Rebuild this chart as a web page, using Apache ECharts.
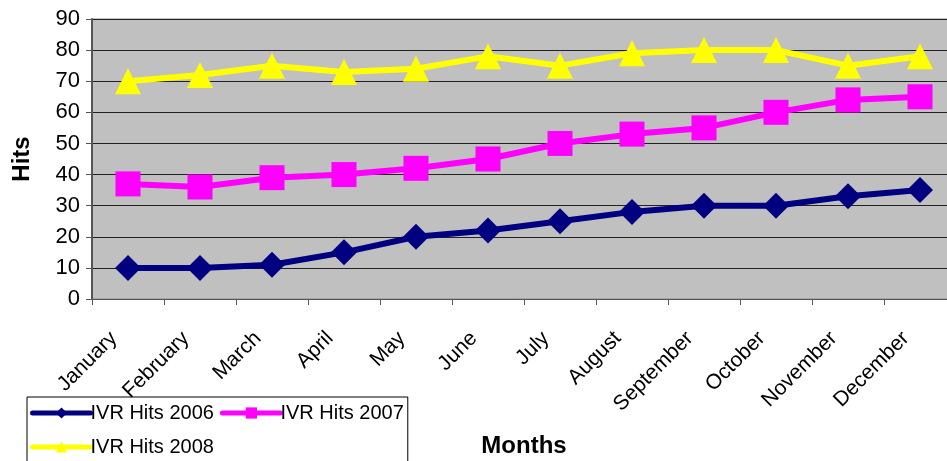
<!DOCTYPE html>
<html>
<head>
<meta charset="utf-8">
<style>
  html, body { margin: 0; padding: 0; background: #fff; }
  #main { width: 947px; height: 461px; }
</style>
<script src="https://cdn.jsdelivr.net/npm/echarts@6/dist/echarts.min.js"></script>
</head>
<body>
<div id="main"></div>
<script>
var months = ['January', 'February', 'March', 'April', 'May', 'June',
  'July', 'August', 'September', 'October', 'November', 'December'];
var hits2006 = [10, 10, 11, 15, 20, 22, 25, 28, 30, 30, 33, 35];
var hits2007 = [37, 36, 39, 40, 42, 45, 50, 53, 55, 60, 64, 65];
var hits2008 = [70, 72, 75, 73, 74, 78, 75, 79, 80, 80, 75, 78];

var chartDom = document.getElementById('main');
var myChart = echarts.init(chartDom);
var font = 'Arial, "Liberation Sans", sans-serif';

function makeSeries(name, data, color, symbol, size) {
  return {
    name: name,
    type: 'line',
    data: data,
    symbol: symbol,
    symbolSize: size,
    showAllSymbol: true,
    lineStyle: { color: color, width: 6 },
    itemStyle: { color: color },
    emphasis: { disabled: true },
  };
}

var option = {
  animation: false,
  textStyle: { fontFamily: font },
  grid: {
    left: 92,
    top: 19,
    width: 864,
    height: 280,
    outerBoundsMode: 'none',
    containLabel: false,
    show: true,
    backgroundColor: '#c0c0c0',
    borderColor: '#888888',
    borderWidth: 1,
  },
  legend: {
    left: 27,
    top: 397,
    width: 375,
    padding: [2, 4, 30, 3],
    itemGap: 6,
    itemWidth: 58,
    itemHeight: 14,
    borderColor: '#000',
    borderWidth: 1,
    lineStyle: { width: 5, cap: 'round' },
    textStyle: {
      fontSize: 20,
      lineHeight: 28,
      color: '#000',
      fontFamily: font,
      padding: [0, 0, 0, -5],
    },
    data: ['IVR Hits 2006', 'IVR Hits 2007', 'IVR Hits 2008'],
  },
  xAxis: {
    type: 'category',
    data: months,
    boundaryGap: true,
    name: 'Months',
    nameLocation: 'middle',
    nameGap: 135,
    nameTextStyle: { fontSize: 24, fontWeight: 'bold', color: '#000', fontFamily: font },
    axisLine: { lineStyle: { color: '#555', width: 1 } },
    axisTick: { show: true, length: 6, lineStyle: { color: '#555' } },
    axisLabel: {
      rotate: 45,
      margin: 22,
      padding: [0, 20, 0, 0],
      interval: 0,
      fontSize: 21,
      color: '#000',
      fontFamily: font,
    },
    splitLine: { show: false },
  },
  yAxis: {
    type: 'value',
    min: 0,
    max: 90,
    interval: 10,
    name: 'Hits',
    nameLocation: 'middle',
    nameGap: 58,
    nameRotate: 90,
    nameTextStyle: { fontSize: 24, fontWeight: 'bold', color: '#000', fontFamily: font },
    axisLine: { show: true, lineStyle: { color: '#555', width: 2 } },
    axisTick: { show: true, length: 6, lineStyle: { color: '#555' } },
    axisLabel: { fontSize: 22, color: '#000', margin: 12, fontFamily: font },
    splitLine: { show: true, lineStyle: { color: '#222', width: 1 } },
  },
  series: [
    makeSeries('IVR Hits 2006', hits2006, '#000080', 'diamond', 26),
    makeSeries('IVR Hits 2007', hits2007, '#ff00ff', 'rect', 25),
    makeSeries('IVR Hits 2008', hits2008, '#ffff00', 'triangle', 26),
  ],
};

option && myChart.setOption(option);

window.onresize = function () {
  myChart.resize();
};
</script>
</body>
</html>
